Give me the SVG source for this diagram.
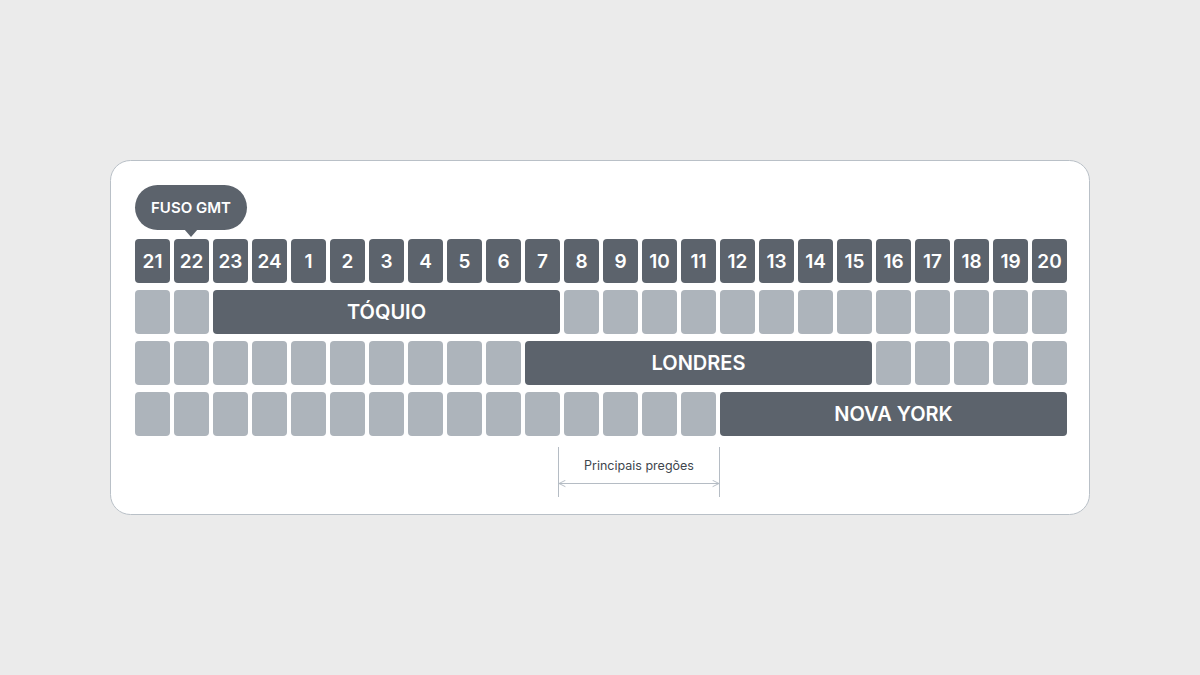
<svg xmlns="http://www.w3.org/2000/svg" width="1200" height="675" viewBox="0 0 1200 675">
<defs>
<style>
.bg{fill:#ebebeb}
.card{fill:#ffffff;stroke:#b9c0c7;stroke-width:1}
.d{fill:#5c636c}
.l{fill:#adb4bb}
.num{font-family:Inter,"Noto Sans",sans-serif;font-weight:600;font-size:19px;fill:#ffffff;text-anchor:middle}
.bar{font-family:Inter,"Noto Sans",sans-serif;font-weight:600;font-size:20px;fill:#ffffff;text-anchor:middle}
.tag{font-family:Inter,"Noto Sans",sans-serif;font-weight:600;font-size:15px;fill:#ffffff;text-anchor:middle}
.note{font-family:Inter,"Noto Sans",sans-serif;font-weight:400;font-size:12.5px;fill:#40464d;text-anchor:middle}
.dim{stroke:#b5bcc4;stroke-width:1;fill:none}
</style>
<marker id="ah" viewBox="0 0 10 10" refX="9" refY="5" markerWidth="8" markerHeight="8" orient="auto-start-reverse" markerUnits="userSpaceOnUse">
<path d="M1,1 L9,5 L1,9" fill="none" stroke="#b5bcc4" stroke-width="1.2"/>
</marker>
</defs>
<rect class="bg" x="0" y="0" width="1200" height="675"/>
<rect class="card" x="110.5" y="160.5" width="979" height="354" rx="20"/>

<g id="callout">
<rect class="d" x="135" y="185" width="112" height="45" rx="22.5"/>
<path class="d" d="M184,229 L191,237 L198,229 Z"/>
<text class="tag" x="191" y="213">FUSO GMT</text>
</g>

<g id="header">
<rect class="d" x="135" y="239" width="35" height="44" rx="4"/><text class="num" x="152.5" y="268">21</text>
<rect class="d" x="174" y="239" width="35" height="44" rx="4"/><text class="num" x="191.5" y="268">22</text>
<rect class="d" x="213" y="239" width="35" height="44" rx="4"/><text class="num" x="230.5" y="268">23</text>
<rect class="d" x="252" y="239" width="35" height="44" rx="4"/><text class="num" x="269.5" y="268">24</text>
<rect class="d" x="291" y="239" width="35" height="44" rx="4"/><text class="num" x="308.5" y="268">1</text>
<rect class="d" x="330" y="239" width="35" height="44" rx="4"/><text class="num" x="347.5" y="268">2</text>
<rect class="d" x="369" y="239" width="35" height="44" rx="4"/><text class="num" x="386.5" y="268">3</text>
<rect class="d" x="408" y="239" width="35" height="44" rx="4"/><text class="num" x="425.5" y="268">4</text>
<rect class="d" x="447" y="239" width="35" height="44" rx="4"/><text class="num" x="464.5" y="268">5</text>
<rect class="d" x="486" y="239" width="35" height="44" rx="4"/><text class="num" x="503.5" y="268">6</text>
<rect class="d" x="525" y="239" width="35" height="44" rx="4"/><text class="num" x="542.5" y="268">7</text>
<rect class="d" x="564" y="239" width="35" height="44" rx="4"/><text class="num" x="581.5" y="268">8</text>
<rect class="d" x="603" y="239" width="35" height="44" rx="4"/><text class="num" x="620.5" y="268">9</text>
<rect class="d" x="642" y="239" width="35" height="44" rx="4"/><text class="num" x="659.5" y="268">10</text>
<rect class="d" x="681" y="239" width="35" height="44" rx="4"/><text class="num" x="698.5" y="268">11</text>
<rect class="d" x="720" y="239" width="35" height="44" rx="4"/><text class="num" x="737.5" y="268">12</text>
<rect class="d" x="759" y="239" width="35" height="44" rx="4"/><text class="num" x="776.5" y="268">13</text>
<rect class="d" x="798" y="239" width="35" height="44" rx="4"/><text class="num" x="815.5" y="268">14</text>
<rect class="d" x="837" y="239" width="35" height="44" rx="4"/><text class="num" x="854.5" y="268">15</text>
<rect class="d" x="876" y="239" width="35" height="44" rx="4"/><text class="num" x="893.5" y="268">16</text>
<rect class="d" x="915" y="239" width="35" height="44" rx="4"/><text class="num" x="932.5" y="268">17</text>
<rect class="d" x="954" y="239" width="35" height="44" rx="4"/><text class="num" x="971.5" y="268">18</text>
<rect class="d" x="993" y="239" width="35" height="44" rx="4"/><text class="num" x="1010.5" y="268">19</text>
<rect class="d" x="1032" y="239" width="35" height="44" rx="4"/><text class="num" x="1049.5" y="268">20</text>
</g>

<g id="tokyo">
<rect class="l" x="135" y="290" width="35" height="44" rx="4"/>
<rect class="l" x="174" y="290" width="35" height="44" rx="4"/>
<rect class="d" x="213" y="290" width="347" height="44" rx="4"/>
<text class="bar" x="386.5" y="319">TÓQUIO</text>
<rect class="l" x="564" y="290" width="35" height="44" rx="4"/>
<rect class="l" x="603" y="290" width="35" height="44" rx="4"/>
<rect class="l" x="642" y="290" width="35" height="44" rx="4"/>
<rect class="l" x="681" y="290" width="35" height="44" rx="4"/>
<rect class="l" x="720" y="290" width="35" height="44" rx="4"/>
<rect class="l" x="759" y="290" width="35" height="44" rx="4"/>
<rect class="l" x="798" y="290" width="35" height="44" rx="4"/>
<rect class="l" x="837" y="290" width="35" height="44" rx="4"/>
<rect class="l" x="876" y="290" width="35" height="44" rx="4"/>
<rect class="l" x="915" y="290" width="35" height="44" rx="4"/>
<rect class="l" x="954" y="290" width="35" height="44" rx="4"/>
<rect class="l" x="993" y="290" width="35" height="44" rx="4"/>
<rect class="l" x="1032" y="290" width="35" height="44" rx="4"/>
</g>

<g id="londres">
<rect class="l" x="135" y="341" width="35" height="44" rx="4"/>
<rect class="l" x="174" y="341" width="35" height="44" rx="4"/>
<rect class="l" x="213" y="341" width="35" height="44" rx="4"/>
<rect class="l" x="252" y="341" width="35" height="44" rx="4"/>
<rect class="l" x="291" y="341" width="35" height="44" rx="4"/>
<rect class="l" x="330" y="341" width="35" height="44" rx="4"/>
<rect class="l" x="369" y="341" width="35" height="44" rx="4"/>
<rect class="l" x="408" y="341" width="35" height="44" rx="4"/>
<rect class="l" x="447" y="341" width="35" height="44" rx="4"/>
<rect class="l" x="486" y="341" width="35" height="44" rx="4"/>
<rect class="d" x="525" y="341" width="347" height="44" rx="4"/>
<text class="bar" x="698.5" y="370">LONDRES</text>
<rect class="l" x="876" y="341" width="35" height="44" rx="4"/>
<rect class="l" x="915" y="341" width="35" height="44" rx="4"/>
<rect class="l" x="954" y="341" width="35" height="44" rx="4"/>
<rect class="l" x="993" y="341" width="35" height="44" rx="4"/>
<rect class="l" x="1032" y="341" width="35" height="44" rx="4"/>
</g>

<g id="novayork">
<rect class="l" x="135" y="392" width="35" height="44" rx="4"/>
<rect class="l" x="174" y="392" width="35" height="44" rx="4"/>
<rect class="l" x="213" y="392" width="35" height="44" rx="4"/>
<rect class="l" x="252" y="392" width="35" height="44" rx="4"/>
<rect class="l" x="291" y="392" width="35" height="44" rx="4"/>
<rect class="l" x="330" y="392" width="35" height="44" rx="4"/>
<rect class="l" x="369" y="392" width="35" height="44" rx="4"/>
<rect class="l" x="408" y="392" width="35" height="44" rx="4"/>
<rect class="l" x="447" y="392" width="35" height="44" rx="4"/>
<rect class="l" x="486" y="392" width="35" height="44" rx="4"/>
<rect class="l" x="525" y="392" width="35" height="44" rx="4"/>
<rect class="l" x="564" y="392" width="35" height="44" rx="4"/>
<rect class="l" x="603" y="392" width="35" height="44" rx="4"/>
<rect class="l" x="642" y="392" width="35" height="44" rx="4"/>
<rect class="l" x="681" y="392" width="35" height="44" rx="4"/>
<rect class="d" x="720" y="392" width="347" height="44" rx="4"/>
<text class="bar" x="893.5" y="421">NOVA YORK</text>
</g>

<g id="connectors">
<line class="dim" x1="558.5" y1="447" x2="558.5" y2="497"/>
<line class="dim" x1="719.5" y1="447" x2="719.5" y2="497"/>
<line class="dim" x1="559" y1="483.5" x2="719" y2="483.5" marker-start="url(#ah)" marker-end="url(#ah)"/>
</g>
<g id="dim-label">
<text class="note" x="639" y="470">Principais pregões</text>
</g>
</svg>
